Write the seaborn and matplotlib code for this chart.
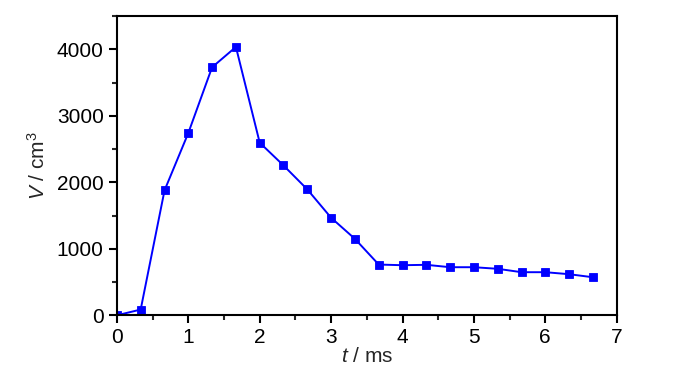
import numpy as np
import pandas as pd
import matplotlib
matplotlib.use('Agg')
import matplotlib.pyplot as plt
import seaborn as sns
from matplotlib.ticker import MultipleLocator

# time points (ms), one every 1/3 ms
t_ms = [0, 0.333, 0.667, 1.0, 1.333, 1.667, 2.0, 2.333, 2.667, 3.0, 3.333,
        3.667, 4.0, 4.333, 4.667, 5.0, 5.333, 5.667, 6.0, 6.333, 6.667]
# volume (cm^3)
volume = [0, 86, 1878, 2741, 3730, 4036, 2596, 2254, 1893, 1467, 1150,
          763, 753, 759, 723, 723, 699, 648, 648, 618, 572]

df = pd.DataFrame({"t": t_ms, "V": volume})

sns.set_style("ticks")
plt.rcParams['font.family'] = ['Liberation Sans', 'DejaVu Sans']
plt.rcParams['mathtext.fontset'] = 'custom'
plt.rcParams['mathtext.rm'] = 'Liberation Sans'
plt.rcParams['mathtext.it'] = 'Liberation Sans:italic'

fig = plt.figure(figsize=(7, 3.74), dpi=100)
ax = fig.add_axes([0.167, 0.157, 0.714, 0.800])

sns.lineplot(data=df, x="t", y="V", ax=ax, color="#0000ff", lw=1.4,
             marker="s", markersize=5.5, markeredgecolor="#0000ff",
             markeredgewidth=0.6)

ax.set_xlim(0, 7)
ax.set_ylim(0, 4500)
ax.xaxis.set_major_locator(MultipleLocator(1))
ax.xaxis.set_minor_locator(MultipleLocator(0.5))
ax.yaxis.set_major_locator(MultipleLocator(1000))
ax.yaxis.set_minor_locator(MultipleLocator(500))

for s in ax.spines.values():
    s.set_visible(True)
    s.set_linewidth(1.5)
    s.set_color('black')

ax.tick_params(which='major', direction='out', length=6, width=1.5,
               labelsize=15, colors='black', top=False, right=False)
ax.tick_params(which='minor', direction='out', length=3.5, width=1.5,
               top=False, right=False)

ax.set_xlabel(r'$\it{t}$ / ms', fontsize=15, labelpad=0)
ax.set_ylabel(r'$\it{V}$ / cm$^{3}$', fontsize=15, labelpad=6)

fig.savefig("out.png", dpi=100)
